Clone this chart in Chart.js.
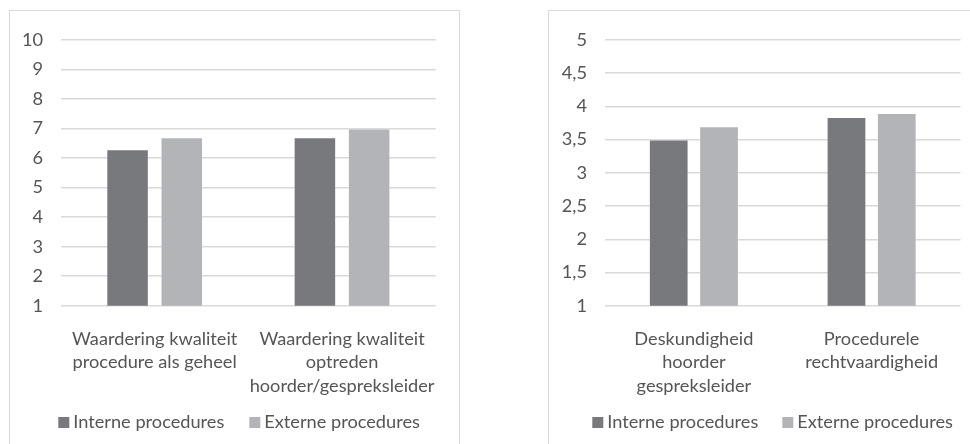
<!DOCTYPE html>
<html lang="nl">
<head>
<meta charset="utf-8">
<title>Waardering procedures</title>
<script src="https://cdn.jsdelivr.net/npm/chart.js@4/dist/chart.umd.min.js"></script>
<style>
  html, body { margin: 0; padding: 0; background: #fff; width: 970px; height: 444px; overflow: hidden; }
  .box { position: absolute; border: 1px solid #d9d9d9; box-sizing: border-box; }
  #boxLeft { left: 9px; top: 10px; width: 451px; height: 450px; }
  #boxRight { left: 548px; top: 10px; width: 440px; height: 450px; }
  canvas { position: absolute; }
  #chartLeft { left: 10px; top: 11px; }
  #chartRight { left: 549px; top: 11px; }
</style>
</head>
<body>
<div class="box" id="boxLeft"></div>
<div class="box" id="boxRight"></div>
<canvas id="chartLeft" width="449" height="433"></canvas>
<canvas id="chartRight" width="421" height="433"></canvas>
<script>
// Series names shared by both panels
const seriesNames = ['Interne procedures', 'Externe procedures'];

// Left panel: appreciation scores (scale 1-10)
const leftCategories = [
  ['Waardering kwaliteit', 'procedure als geheel'],
  ['Waardering kwaliteit', 'optreden', 'hoorder/gespreksleider']
];
const leftInterne = [6.3, 6.7];
const leftExterne = [6.7, 7.0];
const leftTickLabels = ['1', '2', '3', '4', '5', '6', '7', '8', '9', '10'];

// Right panel: scores on a 1-5 scale
const rightCategories = [
  ['Deskundigheid', 'hoorder', 'gespreksleider'],
  ['Procedurele', 'rechtvaardigheid']
];
const rightInterne = [3.5, 3.84];
const rightExterne = [3.7, 3.9];
const rightTickLabels = ['1', '1,5', '2', '2,5', '3', '3,5', '4', '4,5', '5'];

const DARK = '#78797d';
const LIGHT = '#b3b4b7';
const TEXT = '#555555';
const GRID = '#d9d9d9';
const FONT_FAMILY = 'Lato, "Open Sans", sans-serif';
const FONT_SIZE = 18.2;

// Legend drawn beneath the plot: small square swatch followed by the label
const bottomLegend = {
  id: 'bottomLegend',
  afterDraw(chart, args, opts) {
    const ctx = chart.ctx;
    ctx.save();
    ctx.font = FONT_SIZE + 'px ' + FONT_FAMILY;
    ctx.textBaseline = 'middle';
    ctx.textAlign = 'left';
    let x = opts.startX;
    chart.data.datasets.forEach(ds => {
      ctx.fillStyle = ds.backgroundColor;
      ctx.fillRect(x, opts.y - 5, 11, 11);
      ctx.fillStyle = TEXT;
      ctx.fillText(ds.label, x + 15, opts.y);
      x += 15 + ctx.measureText(ds.label).width + opts.gap;
    });
    ctx.restore();
  }
};

function makeChart(id, cfg) {
  return new Chart(document.getElementById(id), {
    type: 'bar',
    data: {
      labels: cfg.categories,
      datasets: [
        {
          label: seriesNames[0],
          data: cfg.interne,
          backgroundColor: DARK,
          borderColor: 'rgba(255,255,255,0.25)',
          borderWidth: 1,
          categoryPercentage: cfg.catPct,
          barPercentage: cfg.barPct
        },
        {
          label: seriesNames[1],
          data: cfg.externe,
          backgroundColor: LIGHT,
          borderColor: 'rgba(255,255,255,0.25)',
          borderWidth: 1,
          categoryPercentage: cfg.catPct,
          barPercentage: cfg.barPct
        }
      ]
    },
    options: {
      responsive: false,
      animation: false,
      devicePixelRatio: 1,
      layout: { padding: { top: 22.7, left: 0, right: cfg.padRight, bottom: 0 } },
      plugins: {
        legend: { display: false },
        tooltip: { enabled: false },
        bottomLegend: { startX: cfg.legendX, y: 411, gap: cfg.legendGap }
      },
      scales: {
        x: {
          grid: { display: false },
          border: { display: false },
          ticks: {
            color: TEXT,
            padding: 13.5,
            maxRotation: 0,
            autoSkip: false,
            font: { family: FONT_FAMILY, size: FONT_SIZE, lineHeight: '23.5px' }
          },
          afterFit(scale) { scale.height = 138.3; }
        },
        y: {
          min: cfg.min,
          max: cfg.max,
          grid: { color: GRID, lineWidth: 1.5, drawTicks: false },
          border: { display: false },
          ticks: {
            stepSize: cfg.step,
            color: TEXT,
            padding: 18,
            font: { family: FONT_FAMILY, size: FONT_SIZE },
            callback: (value, index) => cfg.tickLabels[index]
          },
          afterFit(scale) { scale.width = cfg.axisWidth; }
        }
      }
    },
    plugins: [bottomLegend]
  });
}

makeChart('chartLeft', {
  categories: leftCategories,
  interne: leftInterne,
  externe: leftExterne,
  tickLabels: leftTickLabels,
  min: 1, max: 10, step: 1,
  catPct: 0.579, barPct: 0.784,
  axisWidth: 51, padRight: 23.3,
  legendX: 48.3, legendGap: 25
});

makeChart('chartRight', {
  categories: rightCategories,
  interne: rightInterne,
  externe: rightExterne,
  tickLabels: rightTickLabels,
  min: 1, max: 5, step: 0.5,
  catPct: 0.566, barPct: 0.79,
  axisWidth: 56, padRight: 9.5,
  legendX: 43.3, legendGap: 24
});
</script>
</body>
</html>
